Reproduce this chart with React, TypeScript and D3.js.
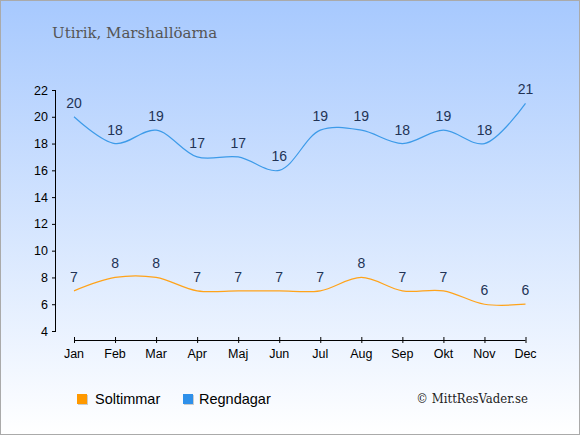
import React from "react";
import * as d3 from "d3";

const months = ["Jan", "Feb", "Mar", "Apr", "Maj", "Jun", "Jul", "Aug", "Sep", "Okt", "Nov", "Dec"];
const soltimmar = [7, 8, 8, 7, 7, 7, 7, 8, 7, 7, 6, 6];
const regndagar = [20, 18, 19, 17, 17, 16, 19, 19, 18, 19, 18, 21];
const yTicks = [4, 6, 8, 10, 12, 14, 16, 18, 20, 22];
const title = "Utirik, Marshallöarna";
const seriesNames = ["Soltimmar", "Regndagar"];
const copyright = "© MittResVader.se";

const W = 580;
const H = 435;
const sansFont = "'Liberation Sans', Arial, sans-serif";
const serifFont = "'DejaVu Serif', 'Liberation Serif', serif";
const orange = "#ffa31a";
const blue = "#3d9be9";

export default function App() {
  const x = d3.scalePoint<string>().domain(months).range([74, 525.5]);
  const y = d3.scaleLinear().domain([4, 22]).range([331, 90]);
  const line = d3
    .line<number>()
    .x((_, i) => x(months[i]) as number)
    .y((d) => y(d))
    .curve(d3.curveCatmullRom.alpha(0.5));

  return (
    <>
      <style>{`body{margin:0}`}</style>
      <svg width={W} height={H} style={{ display: "block" }}>
        <defs>
          <linearGradient id="bg" x1="0" y1="0" x2="0" y2="1">
            <stop offset="0%" stopColor="#a7c9fe" />
            <stop offset="100%" stopColor="#ffffff" />
          </linearGradient>
        </defs>
        <rect x={0.5} y={0.5} width={W - 1} height={H - 1} fill="url(#bg)" stroke="#aaaaaa" />
        <text x={52} y={38} fontFamily={serifFont} fontSize={15} fill="#555555">
          {title}
        </text>
        {/* Y axis */}
        <line x1={55.5} x2={55.5} y1={y(22)} y2={y(4)} stroke="#000" />
        {yTicks.map((t) => (
          <g key={t}>
            <line x1={52} x2={56} y1={y(t) + 0.5} y2={y(t) + 0.5} stroke="#000" />
            <text x={48} y={y(t) + 4.5} textAnchor="end" fontFamily={sansFont} fontSize={12.5} fill="#000">
              {t}
            </text>
          </g>
        ))}
        {/* X axis */}
        <line x1={x("Jan")} x2={x("Dec")} y1={340.5} y2={340.5} stroke="#000" />
        {months.map((m) => (
          <g key={m}>
            <line x1={(x(m) as number) + 0.5} x2={(x(m) as number) + 0.5} y1={337} y2={343} stroke="#000" />
            <text x={x(m)} y={358} textAnchor="middle" fontFamily={sansFont} fontSize={12.5} fill="#000">
              {m}
            </text>
          </g>
        ))}
        {/* Lines */}
        <path d={line(regndagar) || ""} fill="none" stroke={blue} strokeWidth={1.2} />
        <path d={line(soltimmar) || ""} fill="none" stroke={orange} strokeWidth={1.2} />
        {regndagar.map((v, i) => (
          <text key={"r" + i} x={x(months[i])} y={y(v) - 9} textAnchor="middle" fontFamily={sansFont} fontSize={14} fill="#223355">
            {v}
          </text>
        ))}
        {soltimmar.map((v, i) => (
          <text key={"s" + i} x={x(months[i])} y={y(v) - 9} textAnchor="middle" fontFamily={sansFont} fontSize={14} fill="#223355">
            {v}
          </text>
        ))}
        {/* Legend */}
        <rect x={78} y={395} width={10} height={10} fill="#cccccc" />
        <rect x={77} y={394} width={10} height={10} fill="#ff9900" />
        <text x={95} y={403.5} fontFamily={sansFont} fontSize={14.5} fill="#000">
          {seriesNames[0]}
        </text>
        <rect x={184} y={395} width={10} height={10} fill="#cccccc" />
        <rect x={183} y={394} width={10} height={10} fill="#2e90ea" />
        <text x={199} y={403.5} fontFamily={sansFont} fontSize={14.5} fill="#000">
          {seriesNames[1]}
        </text>
        <text x={528} y={403} textAnchor="end" fontFamily={serifFont} fontSize={13} style={{ fontStretch: "condensed" }} fill="#222">
          {copyright}
        </text>
      </svg>
    </>
  );
}
